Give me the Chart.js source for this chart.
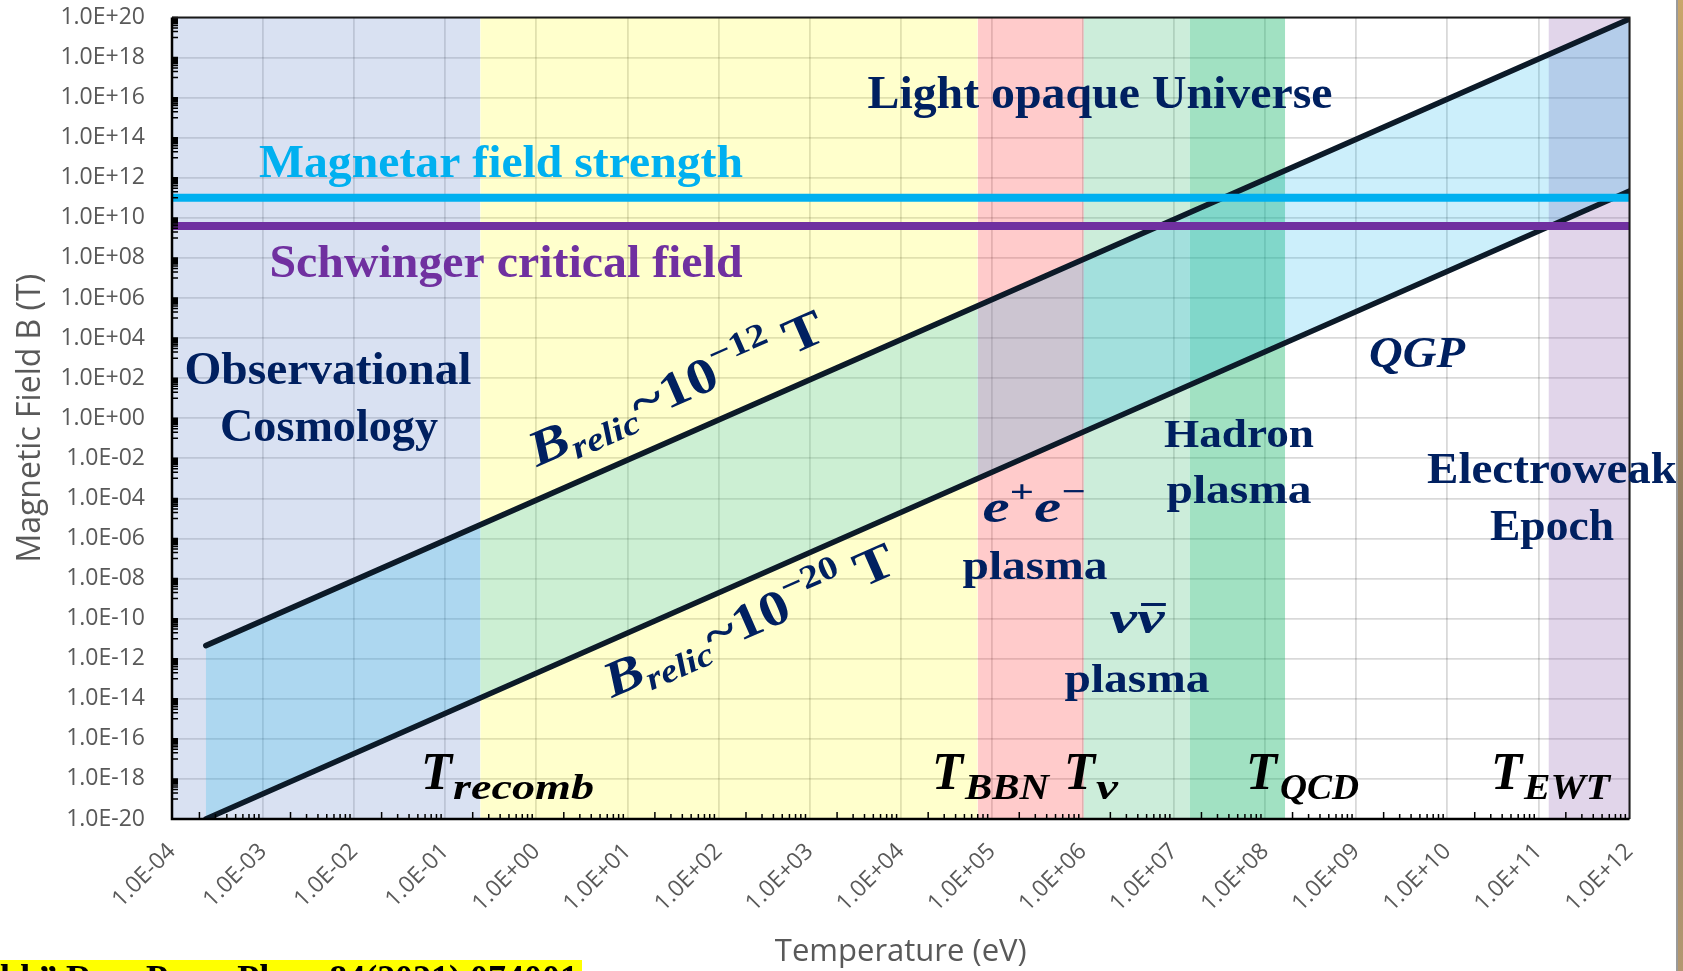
<!DOCTYPE html>
<html>
<head>
<meta charset="utf-8">
<title>Relic magnetic field vs temperature</title>
<script src="https://cdn.jsdelivr.net/npm/chart.js@4.4.1/dist/chart.umd.min.js"></script>
<style>
  html, body { margin: 0; padding: 0; background: #fff; }
  #wrap { position: relative; width: 1683px; height: 971px; overflow: hidden; }
  #edge { position: absolute; left: 1676px; top: 0; width: 7px; height: 971px;
          border-left: 2px solid #9a9a9a;
          background: linear-gradient(180deg, #c9a66b 0%, #a98a5a 30%, #8c7a66 60%, #b39870 100%); }
</style>
</head>
<body>
<div id="wrap">
  <canvas id="chart" width="1683" height="971"></canvas>
  <div id="edge"></div>
</div>
<script>
// axis ticks
const tempTicks = [1e-4, 1e-3, 1e-2, 1e-1, 1e0, 1e1, 1e2, 1e3, 1e4, 1e5, 1e6, 1e7, 1e8, 1e9, 1e10, 1e11, 1e12];
const tempTickLabels = ["1.0E-04", "1.0E-03", "1.0E-02", "1.0E-01", "1.0E+00", "1.0E+01", "1.0E+02", "1.0E+03",
  "1.0E+04", "1.0E+05", "1.0E+06", "1.0E+07", "1.0E+08", "1.0E+09", "1.0E+10", "1.0E+11", "1.0E+12"];
const fieldTicks = [1e-20, 1e-18, 1e-16, 1e-14, 1e-12, 1e-10, 1e-8, 1e-6, 1e-4, 1e-2, 1e0,
  1e2, 1e4, 1e6, 1e8, 1e10, 1e12, 1e14, 1e16, 1e18, 1e20];
const fieldTickLabels = ["1.0E-20", "1.0E-18", "1.0E-16", "1.0E-14", "1.0E-12", "1.0E-10", "1.0E-08", "1.0E-06",
  "1.0E-04", "1.0E-02", "1.0E+00", "1.0E+02", "1.0E+04", "1.0E+06", "1.0E+08", "1.0E+10", "1.0E+12",
  "1.0E+14", "1.0E+16", "1.0E+18", "1.0E+20"];

// relic field lines (from today's CMB temperature up to 1 TeV)
const relicT = [2.35e-4, 1e12];
const relicStrongB = [4.5e-12, 8.5e19];
const relicWeakB = [1e-20, 2.2e11];

// horizontal reference fields (T)
const fieldLineT = [1e-4, 1e12];
const magnetarB = 1e11;
const schwingerB = 3.9e9;

// epochs shaded in the background (eV)
const epochNames = ["Observational cosmology", "After recombination", "e+e- plasma", "neutrino plasma", "Hadron plasma", "Electroweak epoch"];
const epochStart = [1e-4, 0.242, 7e4, 1.02e6, 1.47e7, 1.29e11];
const epochEnd = [0.242, 7e4, 1.02e6, 1.47e7, 1.66e8, 1e12];
const epochColors = ["rgba(103,135,203,0.25)", "rgba(255,255,0,0.2)", "rgba(255,47,47,0.25)",
  "rgba(51,183,107,0.25)", "rgba(20,180,102,0.4)", "rgba(135,87,171,0.25)"];

const NAVY = "#002060";
const SERIF = '"Liberation Serif", "DejaVu Serif", serif';

function fitText(ctx, str, font, color, x, y, width, align) {
  ctx.save();
  ctx.font = font;
  ctx.fillStyle = color;
  ctx.textAlign = "left";
  ctx.textBaseline = "alphabetic";
  const w = ctx.measureText(str).width;
  const x0 = align === "center" ? x - width / 2 : x;
  ctx.translate(x0, y);
  ctx.scale(width / w, 1);
  ctx.fillText(str, 0, 0);
  ctx.restore();
}

// runs of text with their own font / vertical shift, squeezed into a width
function fitRuns(ctx, runs, color, x, y, width, angle, align) {
  ctx.save();
  ctx.fillStyle = color;
  ctx.textAlign = "left";
  ctx.textBaseline = "alphabetic";
  let total = 0;
  runs.forEach(r => { ctx.font = r.font; r.w = ctx.measureText(r.t).width; total += r.w; });
  const x0 = align === "center" ? x - width / 2 : x;
  ctx.translate(x0, y);
  ctx.rotate(angle || 0);
  ctx.scale(width / total, 1);
  let cx = 0;
  runs.forEach(r => {
    ctx.font = r.font;
    ctx.fillText(r.t, cx, r.dy || 0);
    if (r.bar) ctx.fillRect(cx + 3, -r.bar, r.w - 2, 3);
    cx += r.w;
  });
  ctx.restore();
}

const decorations = {
  id: "decorations",
  afterDatasetsDraw(chart) {
    const { ctx, chartArea: a, scales } = chart;
    const x = scales.x, y = scales.y;
    ctx.save();
    ctx.strokeStyle = "#000";
    ctx.lineWidth = 1.5;
    ctx.beginPath();
    // y minor marks sit in every other decade
    for (let e = -20; e < 20; e += 2) {
      for (let m = 1; m <= 10; m++) {
        const py = y.getPixelForValue(m * Math.pow(10, e + 1));
        ctx.moveTo(a.left, py);
        ctx.lineTo(a.left + 6, py);
      }
    }
    for (let e = -4; e < 12; e++) {
      for (let m = 2; m <= 9; m++) {
        const px = x.getPixelForValue(m * Math.pow(10, e));
        ctx.moveTo(px, a.bottom);
        ctx.lineTo(px, a.bottom - (m === 2 ? 7 : 5));
      }
    }
    ctx.stroke();
    // frame
    ctx.strokeStyle = "#1a1a1a";
    ctx.lineWidth = 2;
    ctx.beginPath();
    ctx.moveTo(a.left, a.top);
    ctx.lineTo(a.right, a.top);
    ctx.lineTo(a.right, a.bottom);
    ctx.stroke();
    ctx.strokeStyle = "#000";
    ctx.lineWidth = 2.5;
    ctx.beginPath();
    ctx.moveTo(a.left, a.top);
    ctx.lineTo(a.left, a.bottom);
    ctx.lineTo(a.right, a.bottom);
    ctx.stroke();
    ctx.restore();
  },
  afterDraw(chart) {
    const ctx = chart.ctx;
    const big = "bold 47px " + SERIF;
    fitText(ctx, "Light opaque Universe", big, NAVY, 1100, 108, 465, "center");
    fitText(ctx, "Magnetar field strength", big, "#00B0F0", 501, 177, 484, "center");
    fitText(ctx, "Schwinger critical field", big, "#7030A0", 506, 277, 473, "center");
    fitText(ctx, "Observational", big, NAVY, 328, 384, 287, "center");
    fitText(ctx, "Cosmology", big, NAVY, 329, 441, 218, "center");

    const mid = "bold 41px " + SERIF;
    fitText(ctx, "Hadron", mid, NAVY, 1239, 447, 150, "center");
    fitText(ctx, "plasma", mid, NAVY, 1239, 503, 145, "center");
    fitText(ctx, "plasma", mid, NAVY, 1035, 579, 145, "center");
    fitText(ctx, "plasma", mid, NAVY, 1137, 692, 145, "center");
    fitText(ctx, "Electroweak", "bold 44px " + SERIF, NAVY, 1552, 483, 250, "center");
    fitText(ctx, "Epoch", "bold 44px " + SERIF, NAVY, 1552, 540, 124, "center");

    const it = "italic bold 46px " + SERIF;
    const itSup = "bold 32px " + SERIF;
    fitRuns(ctx, [{ t: "e", font: it }, { t: "+", font: itSup, dy: -20 }, { t: "e", font: it }, { t: "\u2212", font: itSup, dy: -20 }],
      NAVY, 1034, 522, 103, 0, "center");
    fitRuns(ctx, [{ t: "\u03bd", font: it }, { t: "\u03bd", font: it, bar: 30 }], NAVY, 1137, 633, 55, 0, "center");
    fitText(ctx, "QGP", "italic bold 44px " + SERIF, NAVY, 1417, 367, 96, "center");

    // epoch temperatures
    const tFont = "italic bold 53px " + SERIF;
    const sFont = "italic bold 36px " + SERIF;
    const temps = [
      ["recomb", 421, 453, 141],
      ["BBN", 932, 965, 84],
      ["\u03bd", 1064, 1096, 22],
      ["QCD", 1246, 1280, 79],
      ["EWT", 1491, 1524, 86]
    ];
    temps.forEach(([sub, tx, sx, sw]) => {
      fitText(ctx, "T", tFont, "#000", tx, 789, 31, "left");
      fitText(ctx, sub, sFont, "#000", sx, 799, sw, "left");
    });

    // relic field labels along the lines
    const ang = -Math.atan2(2 * 20.04, 91.1);
    const bFont = "italic bold 50px " + SERIF;
    const subFont = "italic bold 33px " + SERIF;
    const upFont = "bold 50px " + SERIF;
    const supFont = "bold 33px " + SERIF;
    const relicLabel = exp => [
      { t: "B", font: bFont }, { t: "relic", font: subFont, dy: 9 }, { t: "~10", font: upFont },
      { t: "\u2212" + exp, font: supFont, dy: -21 }, { t: " T", font: upFont }
    ];
    fitRuns(ctx, relicLabel("12"), NAVY, 537, 467, 318, ang, "left");
    fitRuns(ctx, relicLabel("20"), NAVY, 612, 698, 313, ang, "left");

    // citation strip cut by the bottom edge
    ctx.save();
    ctx.fillStyle = "#FFFF00";
    ctx.fillRect(0, 960, 582, 11);
    ctx.restore();
    fitText(ctx, "ld.\u201d Rep. Prog. Phys. 84(2021) 074001", "bold 37px " + SERIF, "#000", 0, 991, 578, "left");
  }
};

const pts = (xs, ys) => xs.map((v, i) => ({ x: v, y: ys[i] }));

const datasets = [];
datasets.push({
  label: "Magnetar field strength",
  data: pts(fieldLineT, [magnetarB, magnetarB]),
  borderColor: "#00B0F0", borderWidth: 8, pointRadius: 0, fill: false, order: 1
});
datasets.push({
  label: "Schwinger critical field",
  data: pts(fieldLineT, [schwingerB, schwingerB]),
  borderColor: "#7030A0", borderWidth: 8, pointRadius: 0, fill: false, order: 1
});
datasets.push({
  label: "B relic ~ 1e-12 T",
  data: pts(relicT, relicStrongB),
  borderColor: "#0c1a28", borderWidth: 5.5, borderCapStyle: "round", pointRadius: 0,
  fill: "+1", backgroundColor: "rgba(0,175,235,0.2)", order: 3
});
datasets.push({
  label: "B relic ~ 1e-20 T",
  data: pts(relicT, relicWeakB),
  borderColor: "#0c1a28", borderWidth: 5.5, borderCapStyle: "round", pointRadius: 0,
  fill: false, order: 2
});
const yTop = fieldTicks[fieldTicks.length - 1];
epochNames.forEach((name, i) => {
  datasets.push({
    label: name,
    data: pts([epochStart[i], epochEnd[i]], [yTop, yTop]),
    borderWidth: 0, pointRadius: 0, fill: "start",
    backgroundColor: epochColors[i], order: 10
  });
});

Chart.defaults.font.family = '"Open Sans", sans-serif';

new Chart(document.getElementById("chart"), {
  type: "line",
  data: { datasets: datasets },
  options: {
    responsive: false,
    devicePixelRatio: 1,
    animation: false,
    layout: { padding: { left: 0, right: 53.5, top: 17.5, bottom: 0 } },
    plugins: { legend: { display: false }, tooltip: { enabled: false } },
    scales: {
      x: {
        type: "logarithmic",
        min: tempTicks[0],
        max: tempTicks[tempTicks.length - 1],
        afterBuildTicks: s => { s.ticks = tempTicks.map(v => ({ value: v })); },
        afterFit: s => { s.height = 152; },
        ticks: {
          autoSkip: false, minRotation: 45, maxRotation: 45, padding: 19,
          color: "#595959", font: { size: 23 },
          callback: (v, i) => tempTickLabels[i]
        },
        grid: { color: "rgba(0,0,0,0.15)", lineWidth: 1.8, drawTicks: false },
        border: { display: false },
        title: { display: true, text: "Temperature (eV)", color: "#595959", font: { size: 31 }, padding: 0 }
      },
      y: {
        type: "logarithmic",
        min: fieldTicks[0],
        max: yTop,
        afterBuildTicks: s => { s.ticks = fieldTicks.map(v => ({ value: v })); },
        afterFit: s => { s.width = 172; s.paddingTop = 0; s.paddingBottom = 0; },
        ticks: {
          autoSkip: false, padding: 27,
          color: "#595959", font: { size: 23 },
          callback: (v, i) => fieldTickLabels[i]
        },
        grid: { color: "rgba(0,0,0,0.15)", lineWidth: 1.8, drawTicks: false },
        border: { display: false },
        title: { display: true, text: "Magnetic Field B (T)", color: "#595959", font: { size: 32 }, padding: { top: 12, bottom: 0 } }
      }
    }
  },
  plugins: [decorations]
});
</script>
</body>
</html>
